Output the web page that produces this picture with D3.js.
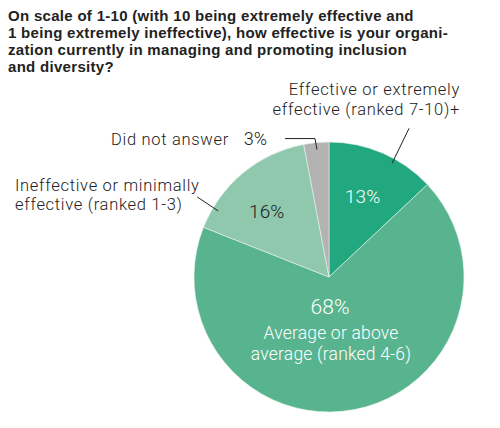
<!DOCTYPE html>
<html>
<head>
<meta charset="utf-8">
<script src="https://cdn.jsdelivr.net/npm/d3@7"></script>
<style>
  body { margin: 0; background: #fff; }
  .title { font-family: "Liberation Sans", Arial, sans-serif; font-weight: 700; font-size: 15px; letter-spacing: 0.3px; fill: #222; }
  .lbl { font-family: Roboto, sans-serif; font-weight: 300; font-size: 16.5px; letter-spacing: 0.7px; fill: #222; }
  .pct { font-family: Roboto, sans-serif; font-weight: 300; font-size: 19px; }
</style>
</head>
<body>
<svg id="chart"></svg>
<script>
// chart data
const titleLines = [
  "On scale of 1-10 (with 10 being extremely effective and",
  "1 being extremely ineffective), how effective is your organi-",
  "zation currently in managing and promoting inclusion",
  "and diversity?"
];
const categories = [
  "Effective or extremely effective (ranked 7-10)+",
  "Average or above average (ranked 4-6)",
  "Ineffective or minimally effective (ranked 1-3)",
  "Did not answer"
];
const values = [13, 68, 16, 3];
const colors = ["#21a87f", "#58b48f", "#8fc8ad", "#b3b3b3"];

const width = 500, height = 428;
const cx = 329, cy = 277, radius = 135;

const svg = d3.select("#chart")
    .attr("width", width)
    .attr("height", height);

// title, one text with a tspan per line
svg.append("text")
    .attr("class", "title")
    .selectAll("tspan")
    .data(titleLines)
    .join("tspan")
      .attr("x", 8)
      .attr("y", (d, i) => 21 + i * 17)
      .text(d => d);

const pie = d3.pie().sort(null).value(d => d.value);
const arcs = pie(categories.map((c, i) => ({name: c, value: values[i], color: colors[i]})));
const arc = d3.arc().innerRadius(0).outerRadius(radius);

const g = svg.append("g")
    .attr("transform", `translate(${cx},${cy})`);

g.selectAll("path")
    .data(arcs)
    .join("path")
      .attr("d", arc)
      .attr("fill", d => d.data.color)
      .attr("stroke", "#e8f3ee")
      .attr("stroke-width", 0.6);

// helper: point at angle (radians, clockwise from top) and radius
const polar = (a, r) => [Math.sin(a) * r, -Math.cos(a) * r];
const mid = d => (d.startAngle + d.endAngle) / 2;

// leader lines
const lineCol = "#222";
// effective
{
  const d = arcs[0];
  const p = polar(d.startAngle + (d.endAngle - d.startAngle) * 0.62, 130);
  g.append("line").attr("x1", p[0]).attr("y1", p[1])
    .attr("x2", p[0] + 17).attr("y2", p[1] - 35)
    .attr("stroke", lineCol).attr("stroke-width", 1);
}
// did not answer
{
  const d = arcs[3];
  const p = polar(mid(d), 128);
  g.append("path")
    .attr("d", `M${p[0]},${p[1]} L${p[0] - 2},${p[1] - 11} L${p[0] - 32},${p[1] - 11}`)
    .attr("fill", "none").attr("stroke", lineCol).attr("stroke-width", 1);
}
// ineffective
{
  const d = arcs[2];
  const p = polar(d.startAngle + (d.endAngle - d.startAngle) * 0.16, 129);
  g.append("line").attr("x1", p[0]).attr("y1", p[1])
    .attr("x2", p[0] - 21).attr("y2", p[1] - 14)
    .attr("stroke", lineCol).attr("stroke-width", 1);
}

// percentage labels inside slices
const pctPos = [
  polar(mid(arcs[0]) + 0.02, 81),
  [1, 37],
  polar(mid(arcs[2]) - 0.12, 86),
  null
];
const pctFill = ["#fff", "#fff", "#222", "#222"];
const pctSize = [19, 21, 19, 19];
arcs.forEach((d, i) => {
  if (!pctPos[i]) return;
  g.append("text")
    .attr("class", "pct")
    .attr("x", pctPos[i][0])
    .attr("y", pctPos[i][1])
    .attr("text-anchor", "middle")
    .attr("fill", pctFill[i])
    .style("font-size", pctSize[i] + "px")
    .text(d.data.value + "%");
});

// two-line label helper
function twoLines(parent, lines, x, y, anchor, gap) {
  const t = parent.append("text").attr("class", "lbl")
      .attr("text-anchor", anchor);
  t.selectAll("tspan").data(lines).join("tspan")
      .attr("x", x)
      .attr("y", (d, i) => y + i * gap)
      .text(d => d);
  return t;
}

const outside = svg.append("g");
twoLines(outside, ["Effective or extremely", "effective (ranked 7-10)+"], 460, 95, "end", 20);

outside.append("text").attr("class", "lbl")
    .attr("x", 111).attr("y", 145)
    .text(categories[3]);
outside.append("text").attr("class", "lbl")
    .attr("x", 267).attr("y", 145).attr("text-anchor", "end")
    .style("font-size", "18px").style("letter-spacing", "0px")
    .text(values[3] + "%");

twoLines(outside, ["Ineffective or minimally", "effective (ranked 1-3)"], 15, 190.5, "start", 19.3);

// label inside big slice
const inner = g.append("text").attr("class", "lbl")
    .attr("text-anchor", "middle")
    .style("fill", "#fff")
    .style("font-size", "17.5px")
    .style("letter-spacing", "0.2px");
inner.selectAll("tspan")
    .data(["Average or above", "average (ranked 4-6)"])
    .join("tspan")
      .attr("x", 2)
      .attr("y", (d, i) => 62 + i * 21)
      .text(d => d);
</script>
</body>
</html>
